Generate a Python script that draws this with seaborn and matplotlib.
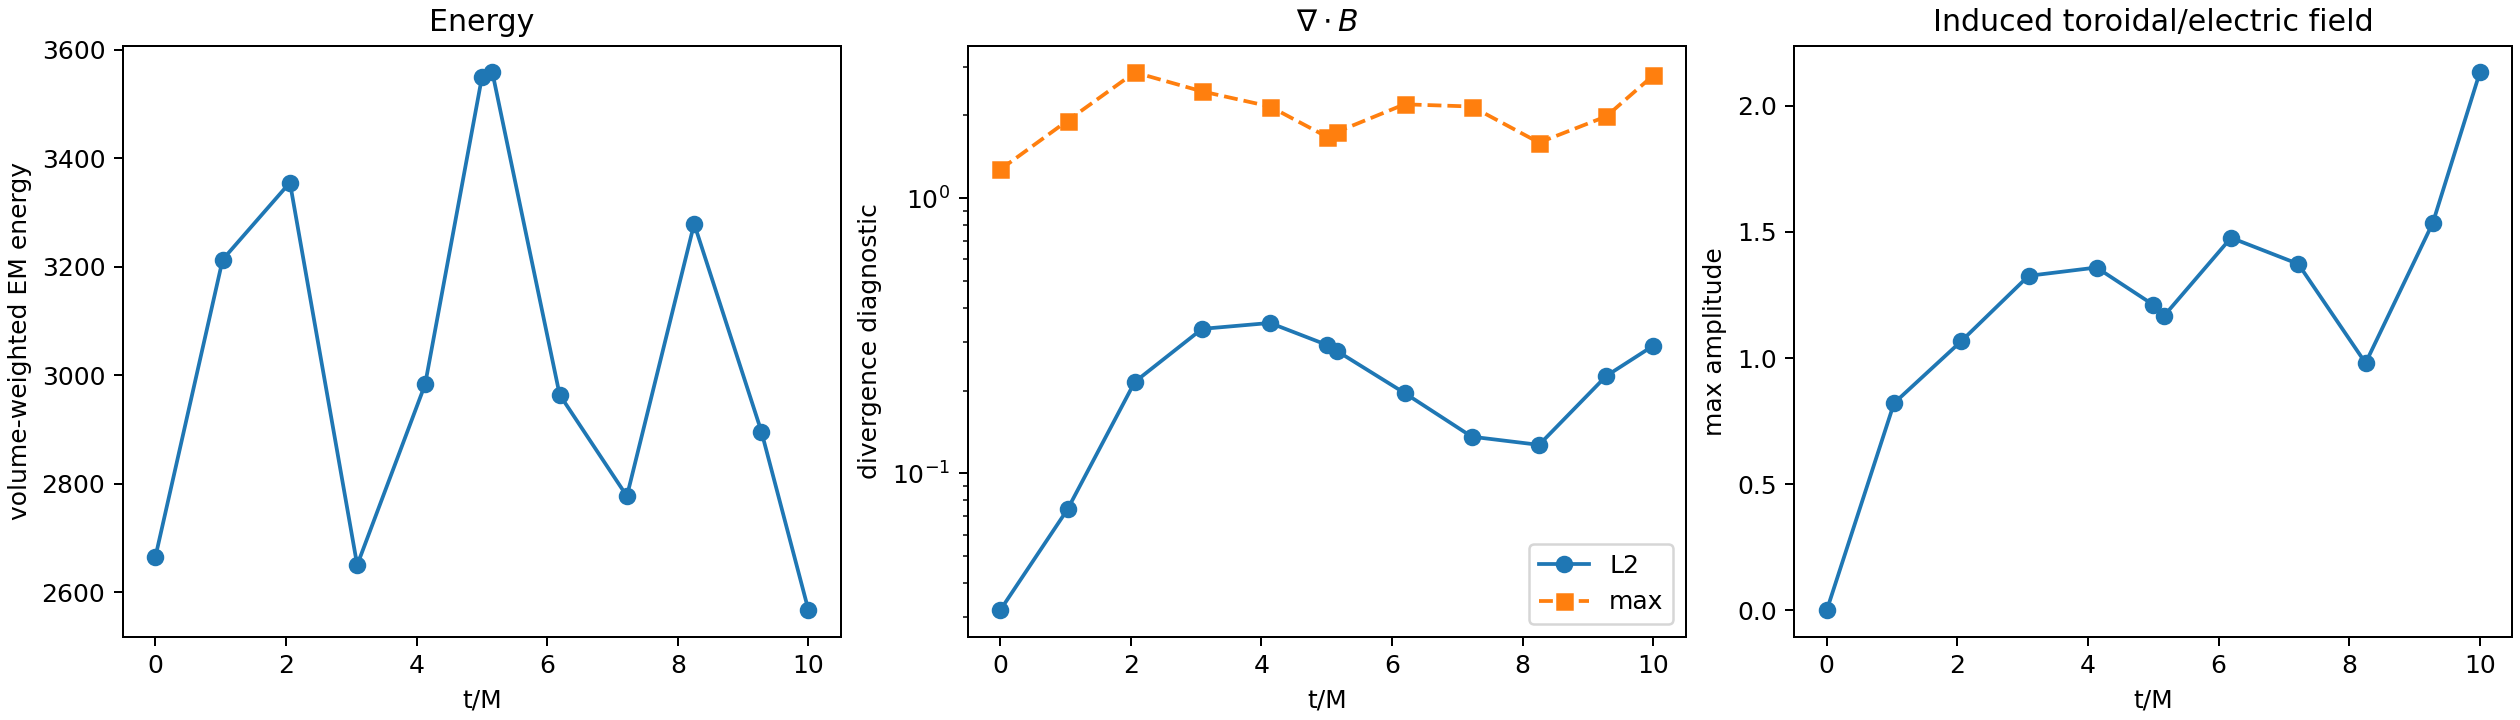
import matplotlib
matplotlib.use("Agg")
import matplotlib.pyplot as plt
import seaborn as sns
import numpy as np

# time samples (t/M)
t = [0.0, 1.03, 2.06, 3.09, 4.13, 5.0, 5.16, 6.19, 7.22, 8.25, 9.28, 10.0]

# panel 1: energy
energy = [2665, 3213, 3355, 2650, 2983, 3549, 3558, 2964, 2777, 3279, 2896, 2567]

# panel 2: divergence diagnostics
div_l2 = [0.0319, 0.0741, 0.215, 0.335, 0.352, 0.293, 0.278, 0.196, 0.136, 0.127, 0.226, 0.291]
div_max = [1.27, 1.91, 2.86, 2.44, 2.15, 1.67, 1.74, 2.19, 2.15, 1.59, 1.98, 2.79]

# panel 3: induced field amplitude
induced = [0.0, 0.821, 1.067, 1.326, 1.359, 1.211, 1.166, 1.477, 1.373, 0.980, 1.536, 2.133]

C0 = "#1f77b4"
C1 = "#ff7f0e"

fig, axes = plt.subplots(1, 3, figsize=(14, 4), dpi=180, layout="constrained")

ax = axes[0]
sns.lineplot(x=t, y=energy, ax=ax, color=C0, marker="o", markersize=6,
             markeredgecolor=C0, markeredgewidth=1, linewidth=1.5)
ax.set_title("Energy")
ax.set_xlabel("t/M")
ax.set_ylabel("volume-weighted EM energy")

ax = axes[1]
sns.lineplot(x=t, y=div_l2, ax=ax, color=C0, marker="o", markersize=6,
             markeredgecolor=C0, markeredgewidth=1, linewidth=1.5, label="L2")
sns.lineplot(x=t, y=div_max, ax=ax, color=C1, marker="s", markersize=6,
             markeredgecolor=C1, markeredgewidth=1, linewidth=1.5, linestyle="--", label="max")
ax.set_yscale("log")
ax.set_title(r"$\nabla\cdot B$")
ax.set_xlabel("t/M")
ax.set_ylabel("divergence diagnostic")
ax.legend(loc="lower right")

ax = axes[2]
sns.lineplot(x=t, y=induced, ax=ax, color=C0, marker="o", markersize=6,
             markeredgecolor=C0, markeredgewidth=1, linewidth=1.5)
ax.set_title("Induced toroidal/electric field")
ax.set_xlabel("t/M")
ax.set_ylabel("max amplitude")

for ax in axes:
    ax.set_xticks([0, 2, 4, 6, 8, 10])

fig.savefig("out.png", dpi=180)
